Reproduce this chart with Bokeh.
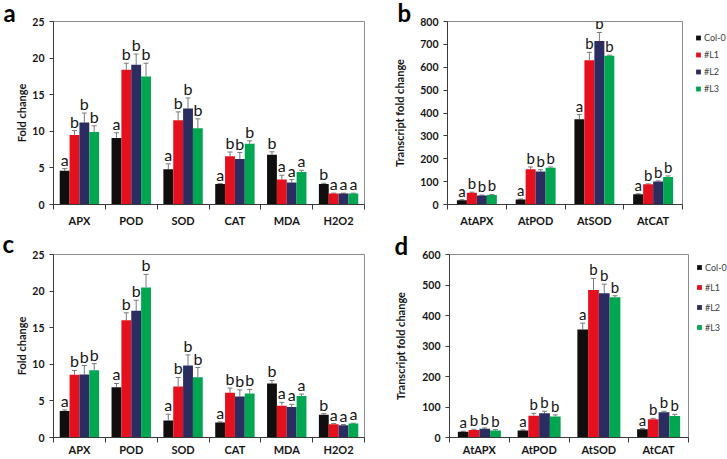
from bokeh.plotting import figure
from bokeh.models import (Range1d, FixedTicker, ColumnDataSource, Whisker, TeeHead,
                          LabelSet, Legend, LegendItem, Title)
from bokeh.layouts import column, row
from bokeh.embed import file_html
from bokeh.resources import INLINE
from bokeh.core.properties import value

SERIES = ["Col-0", "#L1", "#L2", "#L3"]
COLORS = ["#100f0d", "#e4101d", "#2b2c5f", "#00a650"]

# ---------------- panel a (fold change) ----------------
a_cats = ["APX", "POD", "SOD", "CAT", "MDA", "H2O2"]
a_col0 = [4.6, 9.1, 4.8, 2.8, 6.8, 2.8]
a_l1 = [9.5, 18.4, 11.5, 6.6, 3.4, 1.5]
a_l2 = [11.2, 19.1, 13.1, 6.2, 3.0, 1.5]
a_l3 = [9.9, 17.5, 10.4, 8.3, 4.45, 1.5]
a_col0_err = [0.3, 0.7, 0.75, 0.06, 0.4, 0.1]
a_l1_err = [0.6, 0.9, 1.15, 0.57, 0.6, 0.05]
a_l2_err = [1.3, 1.45, 1.45, 0.9, 0.4, 0.05]
a_l3_err = [0.85, 1.8, 1.3, 0.4, 0.22, 0.05]
a_col0_sig = ["a", "a", "a", "a", "b", "b"]
a_l1_sig = ["b", "b", "b", "b", "a", "a"]
a_l2_sig = ["b", "b", "b", "b", "a", "a"]
a_l3_sig = ["b", "b", "b", "b", "a", "a"]

# ---------------- panel b (transcripts) ----------------
b_cats = ["AtAPX", "AtPOD", "AtSOD", "AtCAT"]
b_col0 = [19, 22, 373, 45]
b_l1 = [51, 154, 631, 88]
b_l2 = [39, 144, 715, 101]
b_l3 = [42, 161, 650, 120]
b_col0_err = [2, 2, 20, 2]
b_l1_err = [3, 10, 34, 2]
b_l2_err = [2, 8, 37, 2]
b_l3_err = [2, 3, 3, 5]
b_col0_sig = ["a", "a", "a", "a"]
b_l1_sig = ["b", "b", "b", "b"]
b_l2_sig = ["b", "b", "b", "b"]
b_l3_sig = ["b", "b", "b", "b"]

# ---------------- panel c ----------------
c_cats = ["APX", "POD", "SOD", "CAT", "MDA", "H2O2"]
c_col0 = [3.62, 6.88, 2.31, 2.04, 7.38, 3.12]
c_l1 = [8.56, 16.03, 6.97, 6.11, 4.35, 1.81]
c_l2 = [8.6, 17.3, 9.83, 5.6, 4.17, 1.68]
c_l3 = [9.19, 20.5, 8.24, 6.02, 5.66, 1.9]
c_col0_err = [0.14, 0.5, 0.86, 0.09, 0.41, 0.14]
c_l1_err = [0.6, 1.0, 1.23, 0.64, 0.45, 0.09]
c_l2_err = [1.23, 1.45, 1.45, 0.9, 0.36, 0.09]
c_l3_err = [0.9, 1.78, 1.32, 0.55, 0.27, 0.05]
c_col0_sig = ["a", "a", "a", "a", "b", "b"]
c_l1_sig = ["b", "b", "b", "b", "a", "a"]
c_l2_sig = ["b", "b", "b", "b", "a", "a"]
c_l3_sig = ["b", "b", "b", "b", "a", "a"]

# ---------------- panel d ----------------
d_cats = ["AtAPX", "AtPOD", "AtSOD", "AtCAT"]
d_col0 = [18.5, 22.8, 354, 27]
d_l1 = [25, 71.7, 483.7, 59.8]
d_l2 = [28.3, 79.3, 472.8, 82.6]
d_l3 = [22.8, 68.5, 459.8, 70.7]
d_col0_err = [2, 2, 21, 2]
d_l1_err = [2, 7.6, 38, 3]
d_l2_err = [3, 6.7, 30, 3.4]
d_l3_err = [3, 5.5, 5, 5.3]
d_col0_sig = ["a", "a", "a", "a"]
d_l1_sig = ["b", "b", "b", "b"]
d_l2_sig = ["b", "b", "b", "b"]
d_l3_sig = ["b", "b", "b", "b"]

FONT = "Lato"
AXIS_COL = "#3a3a3a"
TEXT_COL = "#151515"


def panel(cats, vals, errs, sigs, ymax, ystep, W, H, bl, br, bt, bb, bar_w,
          ytitle, title_standoff, xlab_standoff, tag, tag_offset, tag_standoff,
          sig_size):
    n = len(cats)
    p = figure(width=W, height=H, output_backend="svg", toolbar_location=None,
               x_range=Range1d(-0.5, n - 0.5), y_range=Range1d(0, ymax),
               min_border_left=bl, min_border_right=br,
               min_border_top=bt, min_border_bottom=bb)
    p.grid.visible = False
    p.outline_line_color = "#8c8c8c"
    p.outline_line_width = 1
    p.background_fill_color = "white"
    p.border_fill_color = "white"

    # panel letter as a left-aligned title pulled into the left margin
    p.title = Title(text=tag, align="left", offset=tag_offset,
                    standoff=tag_standoff, vertical_align="bottom",
                    text_font=FONT, text_font_style="bold",
                    text_font_size="24px", text_color="#000000")

    for k in range(4):
        off = (k - 1.5) * bar_w
        xs = [i + off for i in range(n)]
        src = ColumnDataSource(dict(
            x=xs, top=vals[k],
            upper=[v + e for v, e in zip(vals[k], errs[k])],
            sig=sigs[k]))
        p.vbar(x="x", top="top", bottom=0, width=bar_w, source=src,
               fill_color=COLORS[k], line_color=None)
        p.add_layout(Whisker(base="x", lower="top", upper="upper", source=src,
                             dimension="height", line_color="#7a7a7a", line_width=1,
                             lower_head=None,
                             upper_head=TeeHead(size=5, line_color="#7a7a7a",
                                                line_width=1)))
        p.add_layout(LabelSet(x="x", y="upper", text="sig", source=src,
                              text_font=value(FONT), text_font_size=sig_size,
                              text_align="center", text_baseline="bottom",
                              text_color=TEXT_COL))

    # y axis
    yax = p.yaxis[0]
    yax.ticker = FixedTicker(ticks=list(range(0, ymax + 1, ystep)))
    yax.major_tick_out = 4
    yax.major_tick_in = 0
    yax.minor_tick_line_color = None
    yax.major_label_standoff = 5
    yax.major_label_text_font = FONT
    yax.major_label_text_font_style = "bold"
    yax.major_label_text_font_size = "10.5px"
    yax.major_label_text_color = TEXT_COL
    yax.axis_line_color = AXIS_COL
    yax.major_tick_line_color = AXIS_COL
    yax.axis_label = ytitle
    yax.axis_label_text_font = FONT
    yax.axis_label_text_font_style = "bold"
    yax.axis_label_text_font_size = "11px"
    yax.axis_label_text_color = TEXT_COL
    yax.axis_label_standoff = title_standoff

    # x axis: labels at category centres, ticks at category boundaries
    xax = p.xaxis[0]
    xax.ticker = FixedTicker(ticks=list(range(n)),
                             minor_ticks=[i - 0.5 for i in range(n + 1)])
    xax.major_label_overrides = {i: c for i, c in enumerate(cats)}
    xax.major_tick_out = 0
    xax.major_tick_in = 0
    xax.major_tick_line_color = None
    xax.minor_tick_out = 5
    xax.minor_tick_in = 0
    xax.minor_tick_line_color = AXIS_COL
    xax.axis_line_color = AXIS_COL
    xax.major_label_standoff = xlab_standoff
    xax.major_label_text_font = FONT
    xax.major_label_text_font_style = "bold"
    xax.major_label_text_font_size = "11px"
    xax.major_label_text_color = TEXT_COL
    return p


def legend_panel(W, H, top_pad, margin, item_h, spacing):
    """A narrow axis-less figure holding the series legend (top-left placed)."""
    q = figure(width=W, height=H, output_backend="svg", toolbar_location=None,
               x_axis_location=None, y_axis_location=None,
               x_range=Range1d(0, 1), y_range=Range1d(0, 1),
               min_border_left=0, min_border_right=0,
               min_border_top=top_pad, min_border_bottom=0)
    q.grid.visible = False
    q.outline_line_color = None
    q.background_fill_color = "white"
    q.border_fill_color = "white"
    nan = float("nan")
    rs = [q.scatter(x=[nan], y=[nan], marker="square", size=5,
                    fill_color=c, line_color=None) for c in COLORS]
    legend = Legend(items=[LegendItem(label=s, renderers=[r])
                           for s, r in zip(SERIES, rs)],
                    location="top_left", orientation="vertical",
                    glyph_width=12, glyph_height=item_h, label_height=item_h,
                    spacing=spacing, padding=0, margin=margin, label_standoff=-2,
                    label_text_font=FONT, label_text_font_size="9px",
                    label_text_color="#404040",
                    border_line_color=None, background_fill_alpha=0)
    q.add_layout(legend)
    return q


pa = panel(a_cats, [a_col0, a_l1, a_l2, a_l3],
           [a_col0_err, a_l1_err, a_l2_err, a_l3_err],
           [a_col0_sig, a_l1_sig, a_l2_sig, a_l3_sig],
           25, 5, 372, 229, 53, 8, 21, 25, 0.19,
           "Fold change", 1, 4, "a", -50, -11, "16px")

pb = panel(b_cats, [b_col0, b_l1, b_l2, b_l3],
           [b_col0_err, b_l1_err, b_l2_err, b_l3_err],
           [b_col0_sig, b_l1_sig, b_l2_sig, b_l3_sig],
           800, 100, 312, 229, 75, 2, 21, 25, 0.17,
           "Transcript fold change", 11, 4, "b", -50, -11, "15px")

lb = legend_panel(43, 229, 12, 8, 17, 0)

pc = panel(c_cats, [c_col0, c_l1, c_l2, c_l3],
           [c_col0_err, c_l1_err, c_l2_err, c_l3_err],
           [c_col0_sig, c_l1_sig, c_l2_sig, c_l3_sig],
           25, 5, 372, 230, 53, 8, 24, 22, 0.19,
           "Fold change", 1, 0, "c", -51, -6, "16px")

pd_ = panel(d_cats, [d_col0, d_l1, d_l2, d_l3],
            [d_col0_err, d_l1_err, d_l2_err, d_l3_err],
            [d_col0_sig, d_l1_sig, d_l2_sig, d_l3_sig],
            600, 100, 318, 230, 77, 2, 24, 22, 0.18,
            "Transcript fold change", 12, 0, "d", -55, -10, "15px")

ld = legend_panel(37, 230, 21, 3, 20, 0)

layout = column(row(pa, pb, lb, spacing=0), row(pc, pd_, ld, spacing=0), spacing=0)
open("out.html", "w").write(file_html(layout, INLINE))
